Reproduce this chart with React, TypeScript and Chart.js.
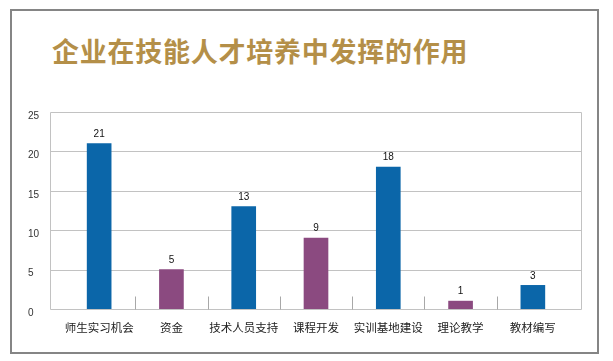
import React, { useEffect, useRef } from "react";
import { Chart, registerables } from "chart.js";

Chart.register(...registerables);

const titleText = "企业在技能人才培养中发挥的作用";
const categories = ["师生实习机会", "资金", "技术人员支持", "课程开发", "实训基地建设", "理论教学", "教材编写"];
const values = [21, 5, 13, 9, 18, 1, 3];
const yTickValues = [0, 5, 10, 15, 20, 25];

const BLUE = "#0b66a9";
const PURPLE = "#8b4a80";
const barColors = [BLUE, PURPLE, BLUE, PURPLE, BLUE, PURPLE, BLUE];

const framePlugin = {
  id: "framePlugin",
  beforeDatasetsDraw(chart: any) {
    const { ctx, chartArea, scales } = chart;
    const ys = scales.y;
    const xs = scales.x;
    const left = chartArea.left - 12.5;
    const right = chartArea.right + 12.5;
    const top = Math.round(ys.getPixelForValue(25)) + 0.5;
    const bottom = Math.round(ys.getPixelForValue(0)) + 0.5;
    ctx.save();
    ctx.lineWidth = 1;
    ctx.strokeStyle = "#c2c2c2";
    const line = (x1: number, y1: number, x2: number, y2: number) => {
      ctx.beginPath();
      ctx.moveTo(x1, y1);
      ctx.lineTo(x2, y2);
      ctx.stroke();
    };
    yTickValues.forEach((v) => {
      const py = Math.round(ys.getPixelForValue(v)) + 0.5;
      line(left, py, right, py);
    });
    line(left, top, left, bottom);
    line(right, top, right, bottom);
    ctx.strokeStyle = "#a8a8a8";
    for (let i = 0; i < categories.length - 1; i++) {
      const px = Math.round((xs.getPixelForValue(i) + xs.getPixelForValue(i + 1)) / 2) + 0.5;
      line(px, bottom - 13, px, bottom);
    }
    ctx.restore();
  },
  afterDatasetsDraw(chart: any) {
    const { ctx } = chart;
    const meta = chart.getDatasetMeta(0);
    ctx.save();
    ctx.fillStyle = "#111";
    ctx.font = "10px 'Liberation Sans', Arial, sans-serif";
    ctx.textAlign = "center";
    ctx.textBaseline = "middle";
    meta.data.forEach((bar: any, i: number) => {
      ctx.fillText(String(values[i]), bar.x, bar.y - 9.5);
    });
    ctx.restore();
  },
};

export default function App() {
  const ref = useRef<HTMLCanvasElement | null>(null);
  useEffect(() => {
    document.body.style.margin = "0";
    if (!ref.current) return;
    const chart = new Chart(ref.current, {
      type: "bar",
      data: {
        labels: categories,
        datasets: [
          {
            data: values,
            backgroundColor: barColors,
            borderWidth: 0,
            barThickness: 24,
          },
        ],
      },
      options: {
        animation: false,
        responsive: false,
        maintainAspectRatio: false,
        layout: { padding: { left: 28, right: 44, top: 112, bottom: 0 } },
        plugins: {
          legend: { display: false },
          tooltip: { enabled: false },
          title: { display: false },
        },
        scales: {
          x: {
            grid: { display: false, drawTicks: false },
            border: { display: false },
            ticks: {
              color: "#222",
              font: { size: 11.5, family: "'Noto Sans CJK SC', sans-serif" },
              padding: 12,
              maxRotation: 0,
              autoSkip: false,
            },
            afterFit(scale: any) {
              scale.height = 52;
            },
          },
          y: {
            min: 0,
            max: 25,
            grid: { display: false, drawTicks: false },
            border: { display: false },
            ticks: {
              stepSize: 5,
              color: "#333",
              crossAlign: "far",
              labelOffset: 4,
              font: { size: 10, family: "'Liberation Sans', Arial, sans-serif" },
            },
            afterFit(scale: any) {
              scale.width = 35;
            },
          },
        },
      },
      plugins: [framePlugin],
    });
    return () => chart.destroy();
  }, []);

  return (
    <div style={{ position: "fixed", left: 0, top: 0, width: 613, height: 361, background: "#fff" }}>
      <div
        style={{
          position: "absolute",
          left: 10,
          top: 9,
          width: 589,
          height: 345,
          border: "2px solid #858585",
          boxSizing: "border-box",
        }}
      />
      <div
        style={{
          position: "absolute",
          left: 52,
          top: 37,
          fontSize: 27,
          lineHeight: "27px",
          fontWeight: 700,
          letterSpacing: "0.75px",
          color: "#b48f48",
          fontFamily: "'Noto Sans CJK SC', sans-serif",
          whiteSpace: "nowrap",
        }}
      >
        {titleText}
      </div>
      <canvas ref={ref} width={613} height={361} style={{ position: "absolute", left: 0, top: 0 }} />
    </div>
  );
}
